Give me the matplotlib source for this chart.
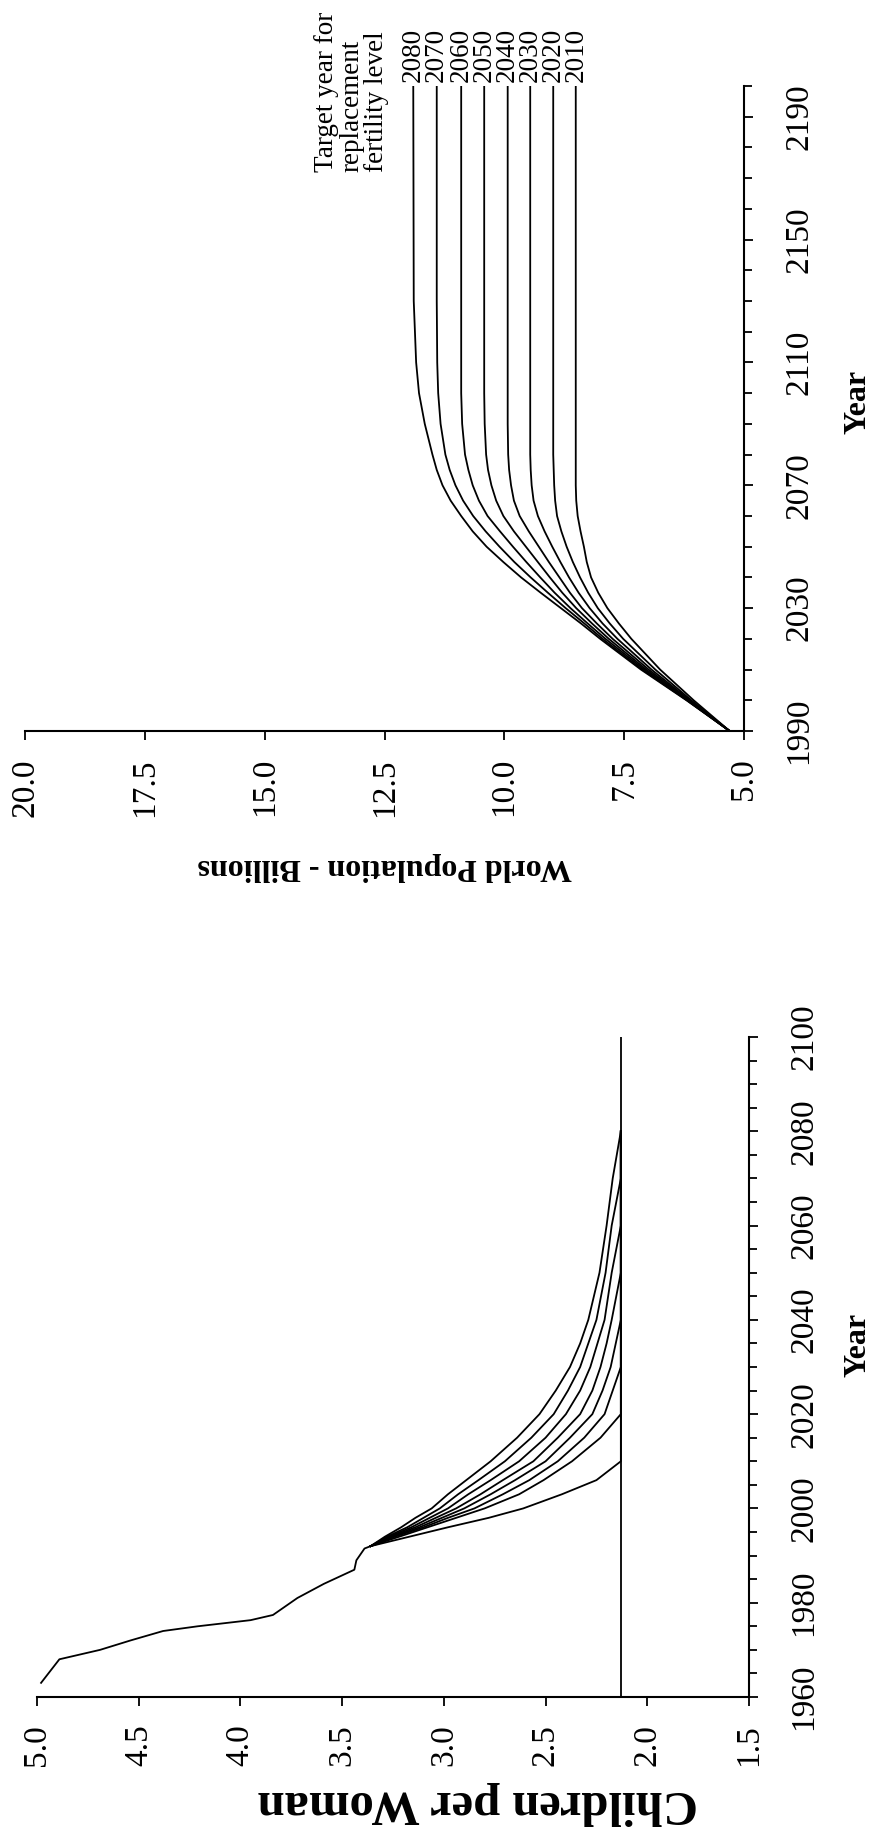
import numpy as np
import matplotlib
matplotlib.use('Agg')
import matplotlib.pyplot as plt
from matplotlib.ticker import FormatStrFormatter

plt.rcParams['font.family'] = ['Liberation Serif', 'DejaVu Serif']

# ---- top chart: world population (billions) by target year for replacement fertility
pop_years = [1990, 2000, 2010, 2020, 2025, 2030, 2035, 2040, 2045, 2050, 2055, 2060, 2065,
             2070, 2075, 2080, 2090, 2100, 2110, 2130, 2200]
pop_2080 = [5.30, 6.20, 7.15, 8.00, 8.40, 8.82, 9.24, 9.65, 10.02, 10.37, 10.66, 10.90, 11.12,
            11.29, 11.41, 11.50, 11.66, 11.78, 11.84, 11.89, 11.90]
pop_2070 = [5.30, 6.19, 7.12, 7.95, 8.33, 8.72, 9.09, 9.45, 9.79, 10.10, 10.39, 10.65, 10.86,
            11.02, 11.14, 11.23, 11.33, 11.38, 11.40, 11.41, 11.41]
pop_2060 = [5.30, 6.18, 7.08, 7.89, 8.26, 8.62, 8.95, 9.25, 9.54, 9.82, 10.09, 10.35, 10.53,
            10.66, 10.75, 10.82, 10.88, 10.90, 10.90, 10.90, 10.90]
pop_2050 = [5.30, 6.17, 7.04, 7.82, 8.17, 8.50, 8.79, 9.05, 9.30, 9.55, 9.80, 10.02, 10.17,
            10.27, 10.34, 10.38, 10.41, 10.42, 10.42, 10.42, 10.42]
pop_2040 = [5.30, 6.15, 6.99, 7.74, 8.07, 8.38, 8.63, 8.85, 9.07, 9.28, 9.49, 9.68, 9.80,
            9.86, 9.90, 9.92, 9.93, 9.93, 9.93, 9.93, 9.93]
pop_2030 = [5.30, 6.13, 6.93, 7.64, 7.95, 8.22, 8.45, 8.65, 8.83, 9.00, 9.16, 9.30, 9.39,
            9.43, 9.45, 9.46, 9.46, 9.46, 9.46, 9.46, 9.46]
pop_2020 = [5.30, 6.10, 6.85, 7.52, 7.80, 8.05, 8.25, 8.42, 8.57, 8.70, 8.81, 8.90, 8.94,
            8.96, 8.97, 8.98, 8.98, 8.98, 8.98, 8.98, 8.98]
pop_2010 = [5.30, 6.05, 6.75, 7.35, 7.61, 7.85, 8.04, 8.19, 8.28, 8.34, 8.41, 8.47, 8.50,
            8.51, 8.51, 8.51, 8.51, 8.51, 8.51, 8.51, 8.51]
target_labels = ['2080', '2070', '2060', '2050', '2040', '2030', '2020', '2010']
pop_series = [pop_2080, pop_2070, pop_2060, pop_2050, pop_2040, pop_2030, pop_2020, pop_2010]

# ---- bottom chart: children per woman
hist_years = [1963, 1968, 1969, 1970, 1972, 1974, 1975, 1976.3, 1977.4, 1981, 1984, 1987, 1989, 1991.5, 1992]
hist_tfr = [4.98, 4.89, 4.79, 4.69, 4.54, 4.38, 4.21, 3.95, 3.84, 3.72, 3.59, 3.44, 3.43, 3.39, 3.36]
fan_years = [1992, 1994, 1996, 1998, 2000, 2003, 2006, 2010, 2015, 2020, 2025, 2030, 2035, 2040, 2050, 2060, 2070, 2080]
tfr_2080 = [3.36, 3.29, 3.21, 3.14, 3.06, 2.98, 2.89, 2.77, 2.64, 2.53, 2.45, 2.38, 2.33, 2.29, 2.235, 2.20, 2.17, 2.13]
tfr_2070 = [3.36, 3.28, 3.18, 3.10, 3.02, 2.93, 2.83, 2.70, 2.57, 2.46, 2.39, 2.33, 2.29, 2.25, 2.205, 2.175, 2.13, 2.13]
tfr_2060 = [3.36, 3.27, 3.16, 3.07, 2.98, 2.88, 2.77, 2.63, 2.50, 2.40, 2.33, 2.28, 2.245, 2.21, 2.175, 2.13, 2.13, 2.13]
tfr_2050 = [3.36, 3.26, 3.14, 3.04, 2.94, 2.82, 2.71, 2.56, 2.44, 2.33, 2.27, 2.23, 2.20, 2.175, 2.13, 2.13, 2.13, 2.13]
tfr_2040 = [3.36, 3.25, 3.12, 3.01, 2.90, 2.77, 2.65, 2.50, 2.38, 2.27, 2.22, 2.18, 2.155, 2.13, 2.13, 2.13, 2.13, 2.13]
tfr_2030 = [3.36, 3.24, 3.10, 2.98, 2.85, 2.71, 2.58, 2.44, 2.31, 2.21, 2.17, 2.13, 2.13, 2.13, 2.13, 2.13, 2.13, 2.13]
tfr_2020 = [3.36, 3.22, 3.08, 2.94, 2.80, 2.63, 2.51, 2.37, 2.23, 2.13, 2.13, 2.13, 2.13, 2.13, 2.13, 2.13, 2.13, 2.13]
tfr_2010 = [3.36, 3.17, 2.98, 2.78, 2.61, 2.42, 2.25, 2.13, 2.13, 2.13, 2.13, 2.13, 2.13, 2.13, 2.13, 2.13, 2.13, 2.13]
tfr_series = [tfr_2080, tfr_2070, tfr_2060, tfr_2050, tfr_2040, tfr_2030, tfr_2020, tfr_2010]
replacement_years = [1960, 2100]
replacement_tfr = [2.13, 2.13]

W, H = 880, 1827
LW = 1.3
fig = plt.figure(figsize=(W / 100, H / 100), dpi=100)


def px_axes(left, top, right, bottom):
    return fig.add_axes([left / W, 1 - bottom / H, (right - left) / W, (bottom - top) / H])


def style_axes(ax):
    for side in ['top', 'left']:
        ax.spines[side].set_visible(False)
    for side in ['bottom', 'right']:
        ax.spines[side].set_linewidth(1.5)
    ax.yaxis.tick_right()
    ax.tick_params(axis='x', direction='out', length=6.5, width=1.3, pad=13,
                   labelsize=24, labelrotation=90)
    ax.tick_params(axis='y', which='both', direction='out', width=1.3, pad=22,
                   labelsize=24, labelrotation=90, left=False, right=True)
    ax.tick_params(axis='y', which='major', length=6.5)
    ax.tick_params(axis='y', which='minor', length=6)
    ax.xaxis.set_major_formatter(FormatStrFormatter('%.1f'))
    for lab in ax.get_yticklabels():
        lab.set_va('center')


# top chart
ax1 = px_axes(25, 86, 744, 731)
for vals in pop_series:
    ax1.plot(vals, pop_years, color='black', lw=LW)
ax1.set_xlim(20, 5)
ax1.set_ylim(1990, 2200)
ax1.set_xticks(np.arange(5, 20.01, 2.5))
ax1.set_yticks(range(1990, 2191, 40))
ax1.set_yticks(range(1990, 2201, 10), minor=True)
style_axes(ax1)

for vals, lab in zip(pop_series, target_labels):
    ax1.annotate(lab, xy=(vals[-1], 2200), xytext=(0, 3), textcoords='offset points',
                 rotation=90, ha='center', va='bottom', fontsize=19.5,
                 annotation_clip=False)
fig.text(389 / W, 1 - 172 / H, 'Target year for\nreplacement\nfertility level',
         rotation=90, ha='right', va='bottom', multialignment='left',
         fontsize=19.5, linespacing=1.0)
fig.text(385 / W, 1 - 867 / H, 'World Population - Billions', rotation=180,
         ha='center', va='center', fontsize=23, fontweight='bold')
fig.text(858 / W, 1 - 402 / H, 'Year', rotation=90, ha='center', va='center',
         fontsize=23, fontweight='bold')

# bottom chart
ax2 = px_axes(37, 1037, 749, 1697)
ax2.plot(replacement_tfr, replacement_years, color='black', lw=LW)
ax2.plot(hist_tfr, hist_years, color='black', lw=LW)
for vals in tfr_series:
    ax2.plot(vals, fan_years, color='black', lw=LW)
ax2.set_xlim(5.0, 1.5)
ax2.set_ylim(1960, 2100)
ax2.set_xticks(np.arange(1.5, 5.01, 0.5))
ax2.set_yticks(range(1960, 2101, 20))
ax2.set_yticks(range(1960, 2101, 5), minor=True)
style_axes(ax2)

fig.text(478 / W, 1 - 1803 / H, 'Children per Woman', rotation=180,
         ha='center', va='center', fontsize=35, fontweight='bold')
fig.text(858 / W, 1 - 1345 / H, 'Year', rotation=90, ha='center', va='center',
         fontsize=23, fontweight='bold')

fig.savefig('out.png', dpi=100)
